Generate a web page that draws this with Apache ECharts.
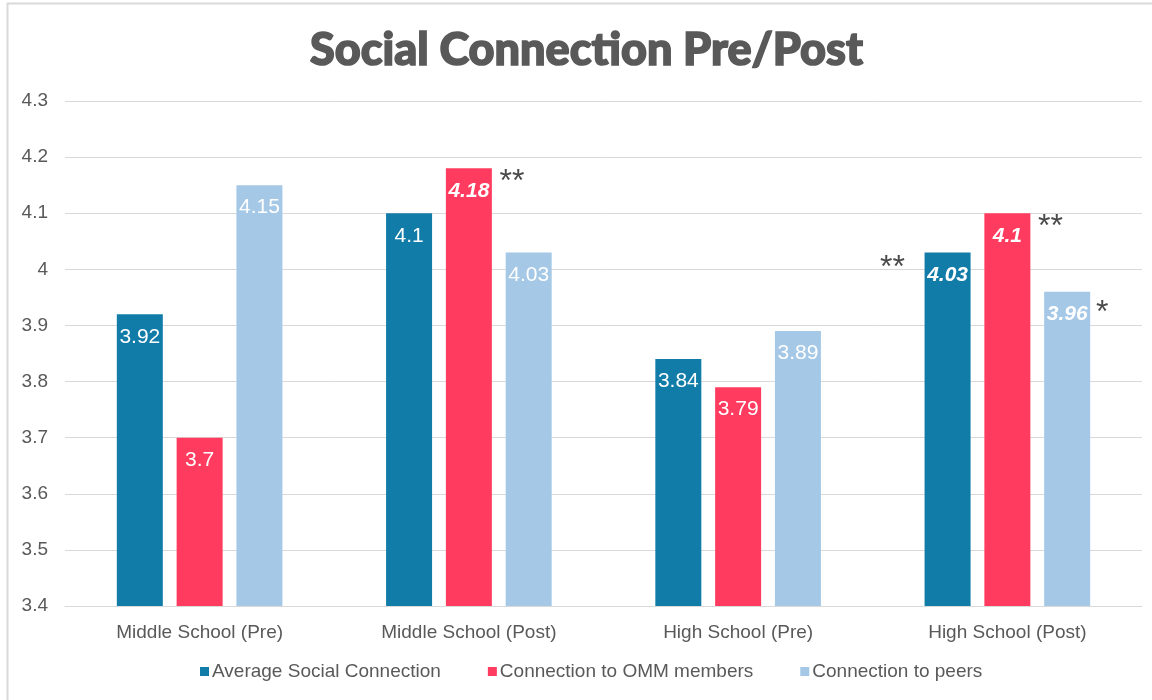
<!DOCTYPE html>
<html>
<head>
<meta charset="utf-8">
<script src="https://cdn.jsdelivr.net/npm/echarts@6/dist/echarts.min.js"></script>
<style>
  html, body { margin: 0; padding: 0; background: #ffffff; }
  #chart { width: 1152px; height: 700px; }
</style>
</head>
<body>
<div id="chart"></div>
<script>
// Groups along the x axis
const categories = ['Middle School (Pre)', 'Middle School (Post)', 'High School (Pre)', 'High School (Post)'];

// Mean scores per series
const avgSocial = [3.92, 4.1, 3.84, 4.03];
const ommMembers = [3.7, 4.18, 3.79, 4.1];
const peers = [4.15, 4.03, 3.89, 3.96];

// Significance markers per series ('' = not significant)
const avgSocialSig = ['', '', '', '**'];
const ommMembersSig = ['', '**', '', '**'];
const peersSig = ['', '', '', '*'];

const seriesNames = ['Average Social Connection', 'Connection to OMM members', 'Connection to peers'];
const yTicks = [3.4, 3.5, 3.6, 3.7, 3.8, 3.9, 4.0, 4.1, 4.2, 4.3];

const colors = ['#117CA8', '#FF3C5F', '#A4C8E6'];
const textGray = '#595959';
const FONT = 'Liberation Sans, Arial, sans-serif';

// Where each series' asterisks sit relative to the top centre of its bar
const sigOffset = [[-55, 16], [43, 14], [35, 21]];

function buildSeries(name, values, sig, idx) {
  const marks = [];
  values.forEach((v, i) => {
    if (sig[i]) {
      marks.push({ coord: [categories[i], v], value: sig[i] });
    }
  });
  return {
    name: name,
    type: 'bar',
    barWidth: 46,
    barGap: '30%',
    itemStyle: { color: colors[idx] },
    data: values.map((v, i) => ({
      value: v,
      label: sig[i] ? { fontWeight: 'bold', fontStyle: 'italic' } : {}
    })),
    label: {
      show: true,
      position: 'insideTop',
      distance: 12,
      color: '#ffffff',
      fontSize: 21,
      fontFamily: FONT,
      formatter: p => String(p.value)
    },
    markPoint: {
      symbol: 'circle',
      symbolSize: 0,
      silent: true,
      label: {
        show: true,
        formatter: p => p.value,
        color: '#4a4a4a',
        fontSize: 32,
        fontFamily: FONT,
        offset: sigOffset[idx]
      },
      data: marks
    }
  };
}

const chart = echarts.init(document.getElementById('chart'), null, { renderer: 'canvas' });

chart.setOption({
  backgroundColor: '#ffffff',
  animation: false,
  title: {
    text: 'Social Connection Pre/Post',
    left: 305,
    top: 23,
    textStyle: {
      fontFamily: "'Lato Black', Lato, Inter, sans-serif",
      fontWeight: 900,
      fontSize: 45,
      color: textGray,
      textBorderColor: textGray,
      textBorderWidth: 1.6
    }
  },
  graphic: [{
    type: 'rect',
    shape: { x: 7.5, y: 3.5, width: 1160, height: 720 },
    style: { fill: 'none', stroke: '#d9d9d9', lineWidth: 2 },
    silent: true
  }],
  legend: {
    bottom: 14,
    left: 195,
    itemWidth: 9,
    itemHeight: 9,
    itemGap: 47,
    icon: 'rect',
    textStyle: { fontFamily: FONT, fontSize: 19, color: textGray, padding: [0, 0, 0, -2] },
    data: seriesNames
  },
  grid: { left: 65, right: 10, top: 101, bottom: 94, containLabel: false },
  xAxis: {
    type: 'category',
    data: categories,
    axisLine: { show: true, lineStyle: { color: '#d9d9d9', width: 1 } },
    axisTick: { show: false },
    axisLabel: { fontFamily: FONT, fontSize: 19, color: textGray, margin: 17 }
  },
  yAxis: {
    type: 'value',
    min: yTicks[0],
    max: yTicks[yTicks.length - 1],
    interval: 0.1,
    axisLine: { show: false },
    axisTick: { show: false },
    splitLine: { lineStyle: { color: '#d9d9d9', width: 1 } },
    axisLabel: {
      fontFamily: FONT,
      fontSize: 19,
      color: textGray,
      margin: 17,
      formatter: v => String(Math.round(v * 10) / 10)
    }
  },
  series: [
    buildSeries(seriesNames[0], avgSocial, avgSocialSig, 0),
    buildSeries(seriesNames[1], ommMembers, ommMembersSig, 1),
    buildSeries(seriesNames[2], peers, peersSig, 2)
  ]
});
</script>
</body>
</html>
